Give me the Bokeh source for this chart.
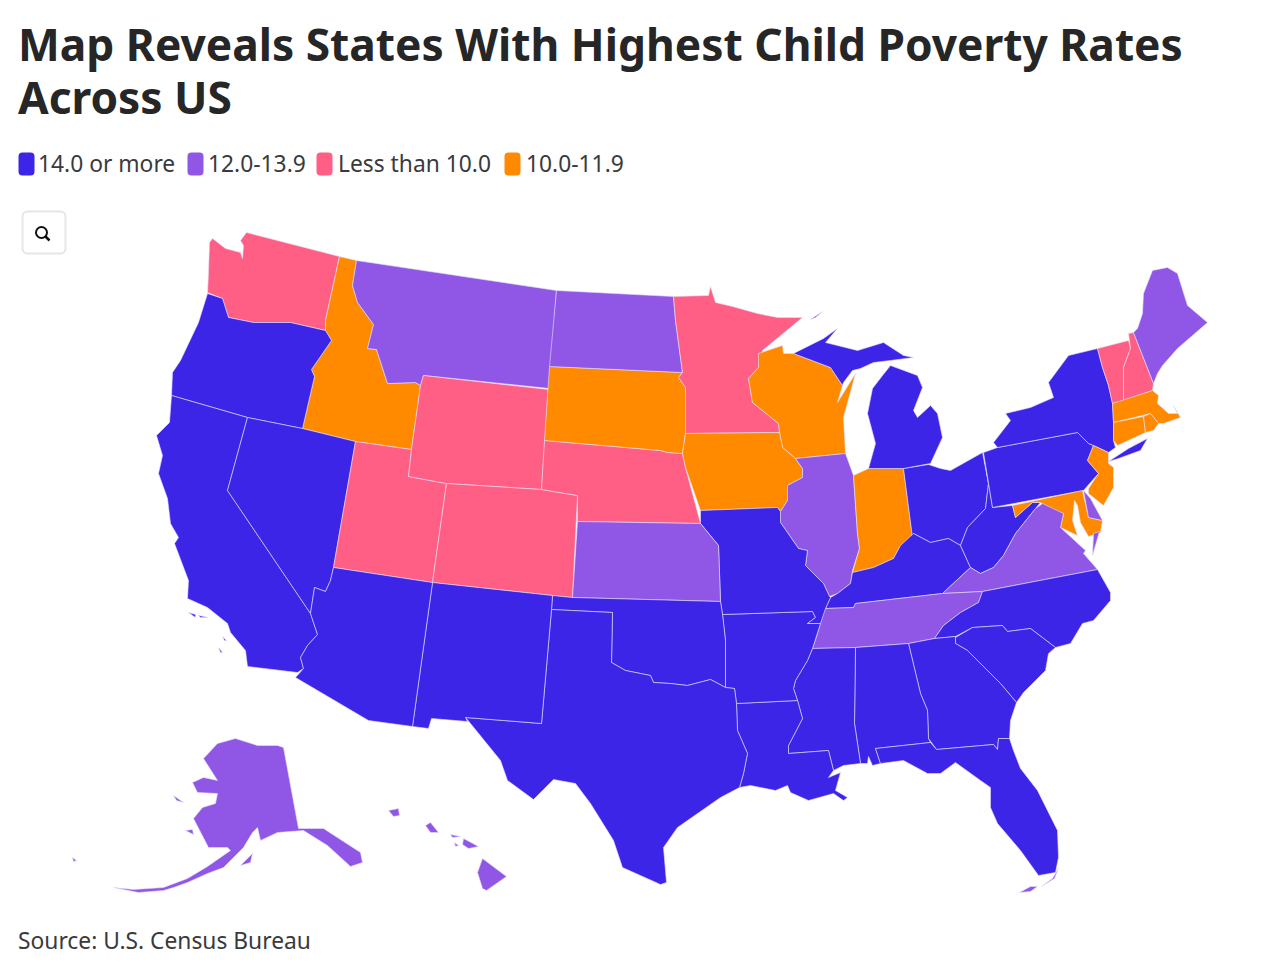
from bokeh.plotting import figure
from bokeh.models import Range1d, ColumnDataSource
from bokeh.core.properties import value
from bokeh.embed import file_html
from bokeh.resources import INLINE

TITLE_LINES = ["Map Reveals States With Highest Child Poverty Rates", "Across US"]
SOURCE_TEXT = "Source: U.S. Census Bureau"
CATEGORIES = ["14.0 or more", "12.0-13.9", "Less than 10.0", "10.0-11.9"]
COLORS = {"14.0 or more": "#3D25E8", "12.0-13.9": "#9057E6", "Less than 10.0": "#FF5F85", "10.0-11.9": "#FF8A00"}

CAT_A = ["OR","CA","CA2","CA3","CA4","CA5","NV","AZ","NM","TX","OK","MO","AR","LA","MS","AL","GA","FL","SC","NC","KY","WV","OH","MI","MI2","MI3","PA","NY","NY2"]
CAT_B = ["MT","ND","KS","IL","TN","VA","VA2","DE","ME","AK","AK2","AK3","AK4","AK5","HI1","HI2","HI3","HI4","HI5","HI6","FK","FK2"]
CAT_C = ["WA","WY","UT","CO","NE","MN","VT","NH"]
CAT_D = ["ID","SD","IA","WI","IN","NJ","MD","MA","CT","RI"]

SHAPES = {
"WA": [(212,238),(225,248),(240,252),(242,258),(243,245),(240,240),(246,232),(339,256),(325,320),(325,330),(290,322),(253,322),(228,317),(222,298),(207,292),(208,272),(209,242)],
"ID": [(339,256),(356,260),(352,285),(357,302),(373,324),(367,348),(376,349),(387,383),(415,382),(420,385),(411,449),(355,441),(302,428),(314,376),(311,369),(331,340),(325,330),(325,320)],
"MT": [(356,260),(556,290),(549,388),(423,375),(420,385),(415,382),(387,383),(376,349),(367,348),(373,324),(357,302),(352,285)],
"OR": [(207,293),(222,298),(228,317),(253,322),(290,322),(325,330),(331,340),(311,369),(314,376),(302,428),(247,417),(171,395),(172,372),(180,360),(198,322)],
"CA": [(171,395),(247,417),(227,490),(310,613),(317,634),(307,645),(300,657),(303,668),(297,672),(247,666),(245,650),(230,632),(227,623),(207,607),(187,598),(188,580),(174,543),(178,537),(170,523),(167,498),(158,473),(162,455),(156,435),(169,422)],
"CA2": [(188,612),(195,614),(195,617)],
"CA3": [(198,615),(208,617),(200,617)],
"CA4": [(222,636),(226,640),(224,640)],
"CA5": [(218,647),(222,652),(220,652)],
"NV": [(247,417),(302,428),(355,441),(333,567),(330,580),(325,591),(314,587),(310,613),(227,490)],
"UT": [(355,441),(411,449),(408,476),(446,483),(432,582),(333,567)],
"WY": [(423,375),(548,389),(541,489),(446,483),(408,476),(411,449),(420,385)],
"CO": [(446,483),(541,489),(577,495),(572,597),(552,595),(432,582)],
"NE": [(544,440),(660,450),(667,452),(682,453),(685,467),(700,523),(577,521),(577,495),(541,489)],
"SD": [(549,366),(682,372),(678,377),(685,387),(685,433),(682,453),(667,452),(660,450),(544,440)],
"ND": [(556,290),(673,296),(675,320),(682,372),(549,366)],
"MN": [(673,296),(708,295),(710,286),(715,302),(732,306),(757,313),(777,317),(802,317),(762,350),(758,367),(748,378),(752,402),(778,423),(779,432),(685,433),(685,387),(678,377),(682,372),(675,320)],
"WI": [(758,353),(782,345),(783,353),(793,353),(830,367),(842,385),(837,402),(855,373),(843,417),(845,453),(795,458),(782,447),(779,432),(778,423),(752,402),(748,378),(758,367)],
"IA": [(685,433),(779,432),(782,447),(795,458),(802,468),(802,477),(787,485),(787,500),(780,511),(777,507),(700,510),(685,467),(682,453)],
"IL": [(795,458),(845,453),(853,475),(857,533),(859,548),(852,570),(850,583),(837,593),(829,596),(823,583),(805,565),(807,550),(798,548),(780,522),(780,511),(787,500),(787,485),(802,477),(802,468)],
"IN": [(853,475),(868,468),(903,468),(912,537),(900,545),(893,558),(873,567),(852,572),(859,548),(857,533)],
"OH": [(903,468),(928,464),(940,468),(950,470),(982,452),(988,483),(985,508),(967,527),(960,545),(948,538),(930,542),(913,533),(912,537)],
"MI": [(868,468),(903,468),(930,463),(942,437),(937,413),(930,405),(917,417),(913,410),(922,387),(917,375),(890,365),(882,375),(872,388),(867,413),(875,443)],
"MI2": [(793,353),(823,338),(837,328),(825,342),(857,350),(883,342),(903,355),(913,357),(890,360),(873,362),(860,368),(852,370),(843,382),(842,385),(830,367)],
"MI3": [(810,319),(822,311),(815,317)],
"KY": [(852,572),(873,567),(893,558),(900,545),(913,533),(930,542),(948,538),(960,545),(970,567),(942,593),(855,603),(853,607),(825,608),(830,597),(837,593),(850,583)],
"WV": [(992,507),(1012,505),(1015,517),(1032,502),(1040,502),(1035,508),(1023,523),(1015,533),(1003,555),(993,567),(980,573),(970,567),(960,545),(967,527),(985,508),(988,483),(983,452)],
"PA": [(983,452),(997,447),(1077,432),(1088,443),(1093,445),(1087,460),(1098,473),(1083,490),(992,507)],
"NY": [(997,447),(993,442),(1010,420),(1005,413),(1030,407),(1053,397),(1048,382),(1068,355),(1097,348),(1102,367),(1108,385),(1112,403),(1113,422),(1113,440),(1115,447),(1108,452),(1093,445),(1088,443),(1077,432)],
"NY2": [(1108,461),(1128,448),(1147,438),(1140,450),(1118,458)],
"NJ": [(1093,445),(1108,452),(1108,463),(1113,467),(1113,487),(1103,505),(1088,493),(1088,488),(1098,473),(1087,460)],
"VT": [(1097,348),(1128,340),(1130,348),(1123,367),(1123,400),(1112,403),(1108,385),(1102,367)],
"NH": [(1128,333),(1133,332),(1153,383),(1152,390),(1123,400),(1123,367),(1130,348)],
"ME": [(1133,332),(1137,328),(1142,313),(1143,293),(1152,270),(1167,267),(1177,273),(1187,305),(1207,322),(1177,348),(1162,365),(1157,373),(1153,383)],
"MA": [(1112,403),(1152,390),(1158,395),(1157,403),(1168,413),(1177,413),(1173,405),(1180,417),(1163,423),(1158,423),(1150,413),(1113,422)],
"CT": [(1113,422),(1143,416),(1145,432),(1117,445),(1113,440)],
"RI": [(1143,416),(1150,413),(1158,423),(1153,430),(1145,432)],
"MD": [(1012,505),(1082,490),(1088,517),(1102,520),(1100,532),(1088,536),(1080,522),(1077,505),(1074,500),(1072,520),(1077,535),(1060,527),(1063,513),(1047,508),(1040,502),(1032,502),(1015,517)],
"DE": [(1083,490),(1090,498),(1102,520),(1088,517)],
"VA": [(1035,508),(1042,503),(1063,513),(1060,527),(1085,550),(1083,553),(1097,569),(982,591),(942,593),(970,567),(980,573),(993,567),(1003,555),(1015,533),(1023,523)],
"VA2": [(1093,533),(1099,531),(1092,555)],
"TN": [(825,608),(853,607),(855,603),(942,593),(982,591),(978,602),(960,612),(943,625),(934,638),(908,643),(855,647),(812,648),(817,633),(823,612)],
"NC": [(982,591),(1097,569),(1110,592),(1110,600),(1093,620),(1082,623),(1070,643),(1055,647),(1030,628),(1007,631),(1002,625),(972,627),(955,636),(934,638),(943,625),(960,612),(978,602)],
"SC": [(955,637),(972,627),(1002,625),(1007,631),(1030,628),(1055,647),(1048,653),(1045,670),(1023,692),(1016,702),(1000,683),(967,650),(955,643)],
"GA": [(908,643),(934,638),(955,636),(955,643),(967,650),(1000,683),(1016,702),(1010,720),(1009,738),(998,738),(997,749),(993,744),(936,749),(928,738),(927,710),(920,693)],
"AL": [(855,647),(908,643),(920,693),(927,710),(928,738),(930,742),(875,748),(880,763),(872,765),(868,756),(867,763),(860,763),(854,723)],
"MS": [(812,648),(855,647),(854,723),(860,763),(843,765),(833,770),(828,750),(788,753),(788,745),(802,718),(797,700),(793,688),(795,680),(807,660)],
"LA": [(736,703),(797,700),(802,718),(788,745),(788,753),(828,750),(833,770),(828,777),(840,772),(835,790),(847,797),(843,800),(833,793),(808,800),(790,792),(787,785),(775,790),(750,785),(739,787),(743,773),(747,753),(737,730)],
"AR": [(722,614),(812,611),(815,617),(807,623),(820,623),(812,648),(807,660),(795,680),(793,688),(797,700),(736,703),(734,688),(725,687),(725,640)],
"MO": [(700,510),(777,507),(780,511),(780,522),(798,548),(807,550),(805,565),(823,583),(829,596),(830,597),(825,608),(820,623),(807,623),(815,617),(812,611),(722,614),(720,601),(718,545),(700,523)],
"KS": [(577,521),(700,523),(718,545),(720,601),(572,597)],
"OK": [(552,595),(572,597),(720,601),(722,614),(725,640),(725,687),(710,679),(687,685),(670,683),(653,682),(650,675),(625,670),(611,662),(612,612),(551,609)],
"TX": [(551,609),(612,612),(611,662),(625,670),(650,675),(653,682),(670,683),(687,685),(710,679),(725,687),(734,688),(736,703),(737,730),(747,753),(743,773),(739,787),(720,797),(677,827),(663,847),(666,882),(660,884),(622,867),(613,840),(590,803),(575,783),(553,779),(533,799),(507,780),(500,760),(470,723),(465,717),(541,723)],
"NM": [(432,582),(552,595),(551,609),(541,723),(465,717),(467,721),(431,718),(428,728),(412,726)],
"AZ": [(333,567),(432,582),(412,726),(368,720),(295,677),(303,668),(300,657),(307,645),(317,634),(310,613),(314,587),(325,591),(330,580)],
"FL": [(875,748),(930,742),(936,749),(993,744),(997,749),(998,738),(1009,738),(1013,750),(1020,768),(1037,790),(1057,830),(1058,857),(1055,872),(1038,875),(1020,850),(997,823),(990,807),(990,787),(980,780),(955,762),(940,773),(927,773),(903,760),(880,763)],
"FK": [(1019,892),(1030,886),(1037,886),(1030,891)],
"FK2": [(1041,886),(1052,878),(1058,868),(1054,878)],
"AK": [(283,747),(298,828),(307,828),(323,828),(360,852),(362,862),(350,866),(327,845),(303,830),(277,832),(260,840),(257,827),(252,832),(243,847),(223,867),(207,873),(187,882),(173,887),(163,890),(138,892),(113,887),(133,889),(163,887),(187,878),(207,866),(230,850),(227,847),(208,847),(193,818),(202,807),(215,803),(217,793),(197,792),(192,782),(203,777),(217,780),(203,758),(217,743),(235,738),(257,745),(277,745)],
"AK2": [(240,865),(252,853),(250,862)],
"AK3": [(173,795),(183,802),(176,800)],
"AK4": [(185,830),(192,829),(193,834)],
"AK5": [(72,857),(76,860),(73,861)],
"HI1": [(482,858),(506,876),(486,890),(482,888),(477,872)],
"HI2": [(463,838),(478,846),(468,848),(462,844)],
"HI3": [(425,825),(430,822),(438,832),(430,832)],
"HI4": [(388,810),(398,808),(399,815),(393,816)],
"HI5": [(450,834),(460,836),(452,837)],
"HI6": [(454,842),(458,845),(455,846)],
}

def category_of(name):
    if name in CAT_A: return CATEGORIES[0]
    if name in CAT_B: return CATEGORIES[1]
    if name in CAT_C: return CATEGORIES[2]
    return CATEGORIES[3]

p = figure(width=1272, height=964, output_backend="svg", toolbar_location=None,
           x_range=Range1d(0, 1272), y_range=Range1d(964, 0),
           min_border=0, outline_line_color=None, background_fill_color="white")
p.axis.visible = False
p.grid.visible = False

names = list(SHAPES)
src = ColumnDataSource(dict(
    xs=[[c[0] for c in SHAPES[n]] for n in names],
    ys=[[c[1] for c in SHAPES[n]] for n in names],
    color=[COLORS[category_of(n)] for n in names],
))
p.patches("xs", "ys", source=src, fill_color="color", line_color="#E4DFFA", line_alpha=0.6, line_width=1)

font = value("Noto Sans")
for txt, y in zip(TITLE_LINES, [43.5, 96]):
    p.text([17.5], [y], text=[txt], text_font=font, text_font_style="bold", text_font_size="44.3px",
           text_color="#262626", text_baseline="alphabetic")

LEG_X = [18, 187, 316, 504]
LEG_TX = [37.5, 207.5, 337.5, 525.5]
p.quad(left=LEG_X, right=[x + 16 for x in LEG_X], top=[152] * 4, bottom=[175] * 4,
       fill_color=[COLORS[c] for c in CATEGORIES], line_color=None, border_radius=4)
p.text(LEG_TX, [163] * 4, text=CATEGORIES, text_font=font, text_font_size="22.8px",
       text_color="#3a3a3a", text_baseline="alphabetic")

p.quad(left=[22], right=[65], top=[211], bottom=[253], fill_color="white", line_color="#E6E6E6",
       line_width=2, border_radius=5)
p.scatter([41], [232], size=11, marker="circle", fill_color=None, line_color="#111111", line_width=2)
p.segment([45], [236], [49], [240], line_color="#111111", line_width=2.5)

p.text([17.5], [940], text=[SOURCE_TEXT], text_font=font, text_font_size="22.8px",
       text_color="#3a3a3a", text_baseline="alphabetic")

open("out.html", "w").write(file_html(p, INLINE))
